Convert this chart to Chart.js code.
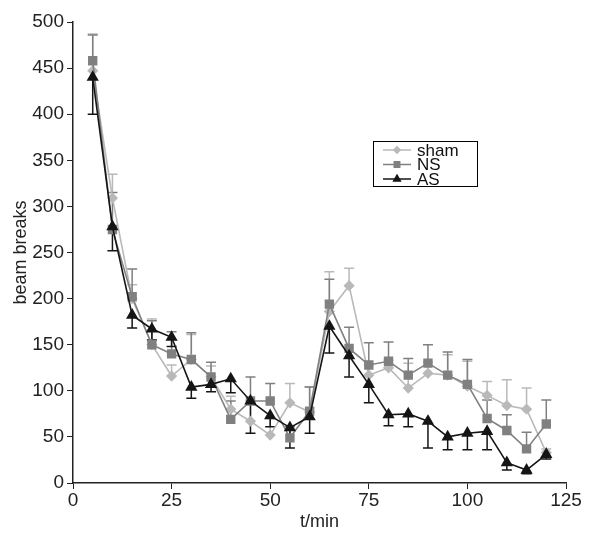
<!DOCTYPE html>
<html>
<head>
<meta charset="utf-8">
<script src="https://cdn.jsdelivr.net/npm/chart.js@4/dist/chart.umd.min.js"></script>
<style>
  html, body { margin: 0; padding: 0; background: #fff; }
  #wrap { width: 605px; height: 537px; }
</style>
</head>
<body>
<div id="wrap"><canvas id="beamChart" width="605" height="537"></canvas></div>
<script>
// time points (min)
const times = [5, 10, 15, 20, 25, 30, 35, 40, 45, 50, 55, 60, 65, 70, 75, 80, 85, 90, 95, 100, 105, 110, 115, 120];

// mean beam breaks
const shamValues = [447, 309, 200, 150, 116, 134, 115, 80, 67, 52, 87, 77, 186, 214, 117, 125, 103, 119, 117, 105, 95, 84, 80, 33];
const nsValues   = [458, 275, 202, 150, 140, 134, 115, 69, 89, 89, 49, 78, 194, 146, 128, 132, 117, 130, 117, 107, 70, 57, 37, 64];
const asValues   = [440, 278, 182, 167, 158, 104, 107, 113, 89, 73, 60, 72, 170, 138, 107, 74, 75, 67, 50, 54, 56, 22, 14, 31];

// error bar lengths (sham and NS drawn upward, AS downward)
const shamErr = [40, 26, 15, 28, 12, 27, 12, 14, 22, 18, 21, 27, 43, 19, 11, 8, 27, 12, 22, 27, 15, 28, 23, 4];
const nsErr   = [28, 40, 30, 26, 24, 29, 16, 20, 26, 19, 12, 26, 27, 23, 24, 21, 18, 20, 25, 27, 20, 17, 18, 26];
const asErr   = [40, 26, 14, 12, 10, 12, 8, 15, 35, 12, 22, 18, 29, 23, 20, 12, 14, 29, 14, 18, 20, 8, 4, 5];

const errorBars = {
  id: 'errorBars',
  beforeDatasetsDraw(chart) {
    const ctx = chart.ctx;
    const y = chart.scales.y;
    chart.data.datasets.forEach((ds, i) => {
      const meta = chart.getDatasetMeta(i);
      ctx.save();
      ctx.strokeStyle = ds.borderColor;
      ctx.lineWidth = 1.5;
      meta.data.forEach((pt, j) => {
        const v = ds.data[j].y;
        const end = y.getPixelForValue(v + ds.errDir * ds.err[j]);
        ctx.beginPath();
        ctx.moveTo(pt.x, pt.y);
        ctx.lineTo(pt.x, end);
        ctx.moveTo(pt.x - 5, end);
        ctx.lineTo(pt.x + 5, end);
        ctx.stroke();
      });
      ctx.restore();
    });
  }
};

// boxed legend inside the plot, like the original
const boxLegend = {
  id: 'boxLegend',
  afterDraw(chart) {
    const ctx = chart.ctx;
    const x0 = 373, y0 = 141, w = 104, h = 45;
    ctx.save();
    ctx.fillStyle = '#fff';
    ctx.fillRect(x0, y0, w, h);
    ctx.strokeStyle = '#000';
    ctx.lineWidth = 1;
    ctx.strokeRect(x0 + 0.5, y0 + 0.5, w, h);
    ctx.font = '17px "Liberation Sans", Arial, sans-serif';
    ctx.textBaseline = 'middle';
    chart.data.datasets.forEach((ds, k) => {
      const cy = y0 + 9 + k * 14.5;
      ctx.strokeStyle = ds.borderColor;
      ctx.lineWidth = 1.5;
      ctx.beginPath();
      ctx.moveTo(x0 + 10, cy);
      ctx.lineTo(x0 + 38, cy);
      ctx.stroke();
      Chart.helpers.drawPoint(ctx, {
        pointStyle: ds.pointStyle, radius: ds.pointRadius * 0.7, rotation: 0, borderWidth: 1
      }, x0 + 24, cy);
      ctx.fillStyle = ds.borderColor;
      ctx.fill();
      ctx.fillStyle = '#111';
      ctx.fillText(ds.label, x0 + 44, cy + 1);
    });
    ctx.restore();
  }
};

function series(vals) {
  return times.map((t, i) => ({ x: t, y: vals[i] }));
}

const tickFont = { family: '"Liberation Sans", Arial, sans-serif', size: 19 };
const titleFont = { family: '"Liberation Sans", Arial, sans-serif', size: 18 };

new Chart(document.getElementById('beamChart').getContext('2d'), {
  type: 'line',
  data: {
    datasets: [
      {
        label: 'sham', data: series(shamValues), err: shamErr, errDir: 1,
        borderColor: '#b9b9b9', backgroundColor: '#b9b9b9',
        pointStyle: 'rectRot', pointRadius: 4.5, borderWidth: 1.6, order: 2
      },
      {
        label: 'NS', data: series(nsValues), err: nsErr, errDir: 1,
        borderColor: '#808080', backgroundColor: '#808080',
        pointStyle: 'rect', pointRadius: 5.5, borderWidth: 1.6, order: 1
      },
      {
        label: 'AS', data: series(asValues), err: asErr, errDir: -1,
        borderColor: '#151515', backgroundColor: '#151515',
        pointStyle: 'triangle', pointRadius: 5.5, borderWidth: 1.6, order: 0
      }
    ]
  },
  options: {
    responsive: false,
    animation: false,
    layout: { padding: { top: 22, right: 39, left: 2, bottom: 0 } },
    scales: {
      x: {
        type: 'linear', min: 0, max: 125,
        afterFit: s => { s.height = 54; },
        grid: { display: true, drawOnChartArea: false, color: '#222', tickLength: 6 },
        border: { color: '#222', width: 1.5 },
        ticks: { stepSize: 25, color: '#222', font: tickFont, padding: 0 },
        title: { display: true, text: 't/min', color: '#222', font: titleFont, padding: { top: 0 } }
      },
      y: {
        min: 0, max: 500,
        afterFit: s => { s.width = 71; },
        grid: { display: true, drawOnChartArea: false, color: '#222', tickLength: 6 },
        border: { color: '#222', width: 1.5 },
        ticks: { stepSize: 50, color: '#222', font: tickFont, padding: 3 },
        title: { display: true, text: 'beam breaks', color: '#222', font: titleFont, padding: { top: 8, bottom: 2 } }
      }
    },
    plugins: {
      legend: { display: false },
      tooltip: { enabled: false }
    }
  },
  plugins: [errorBars, boxLegend]
});
</script>
</body>
</html>
